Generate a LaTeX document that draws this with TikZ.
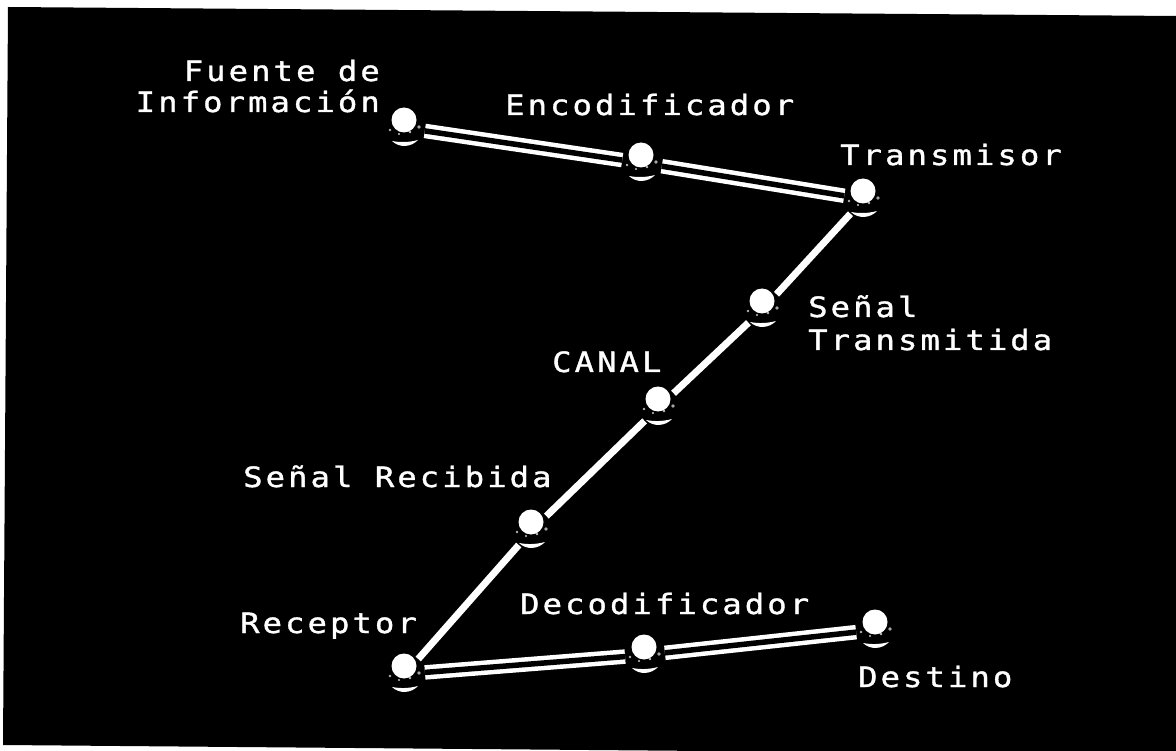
\documentclass[tikz,border=0pt]{standalone}
\usepackage{fontspec}
\newfontfamily\labfont[LetterSpace=11,FakeStretch=1.15,FakeBold=1.2]{DejaVu Sans Mono}
\begin{document}
\begin{tikzpicture}[x=1pt,y=-1pt,
  ball/.style={circle, minimum size=40pt, inner sep=0pt, outer sep=0pt},
  lab/.style={text=white, font=\labfont\fontsize{28}{31}\selectfont, inner sep=0pt},
  dbl/.style={draw=white, line width=4.5pt, double=black, double distance=5.5pt},
  sgl/.style={draw=white, line width=7pt},
  ballart/.pic={
    \fill[white] (-1,-8) circle (12.5);
    \fill[white] (-13,13) .. controls (-6,20) and (6,19.5) .. (13,12) .. controls (4,14.5) and (-5,14.5) .. (-13,13) -- cycle;
    \fill[gray!70] (14,-1) circle (1.8);
    \fill[gray!60] (-15,2) circle (1.4);
    \fill[gray!50] (5,4) circle (1.3);
    \fill[gray!45] (-6,6) circle (1.1);
  }]
\useasboundingbox (0,0) rectangle (1176,751);
\fill[white] (0,0) rectangle (1176,751);
\fill[black] (8,7) -- (1176,16) -- (1176,755) -- (3,745) -- cycle;
% balls
\node[ball] (fuente) at (405,128) {};
\node[ball] (enc) at (642,163) {};
\node[ball] (trans) at (864,199) {};
\node[ball] (st) at (763,309) {};
\node[ball] (canal) at (659,407) {};
\node[ball] (sr) at (532,530) {};
\node[ball] (rec) at (405,674) {};
\node[ball] (dec) at (645,655) {};
\node[ball] (dest) at (876,630) {};
\foreach \b in {fuente,enc,trans,st,canal,sr,rec,dec,dest}
  \pic at (\b) {ballart};
% connectors
\draw[dbl] (fuente) -- (enc);
\draw[dbl] (enc) -- (trans);
\draw[sgl] (trans) -- (st);
\draw[sgl] (st) -- (canal);
\draw[sgl] (canal) -- (sr);
\draw[sgl] (sr) -- (rec);
\draw[dbl] (rec) -- (dec);
\draw[dbl] (dec) -- (dest);
% labels
\node[lab, anchor=base east] (l1a) at (380,81) {Fuente de};
\node[lab, anchor=base east] (l1b) at (380,112) {Información};
\node[lab, anchor=base west] (l2) at (505,115) {Encodificador};
\node[lab, anchor=base west] (l3) at (840,165) {Transmisor};
\node[lab, anchor=base west] (l4a) at (808,317) {Señal};
\node[lab, anchor=base west] (l4b) at (808,350) {Transmitida};
\node[lab, anchor=base west] (l5) at (552,372) {CANAL};
\node[lab, anchor=base west] (l6) at (243,487) {Señal Recibida};
\node[lab, anchor=base west] (l7) at (240,633) {Receptor};
\node[lab, anchor=base west] (l8) at (520,614) {Decodificador};
\node[lab, anchor=base west] (l9) at (858,687) {Destino};
\end{tikzpicture}
\end{document}
